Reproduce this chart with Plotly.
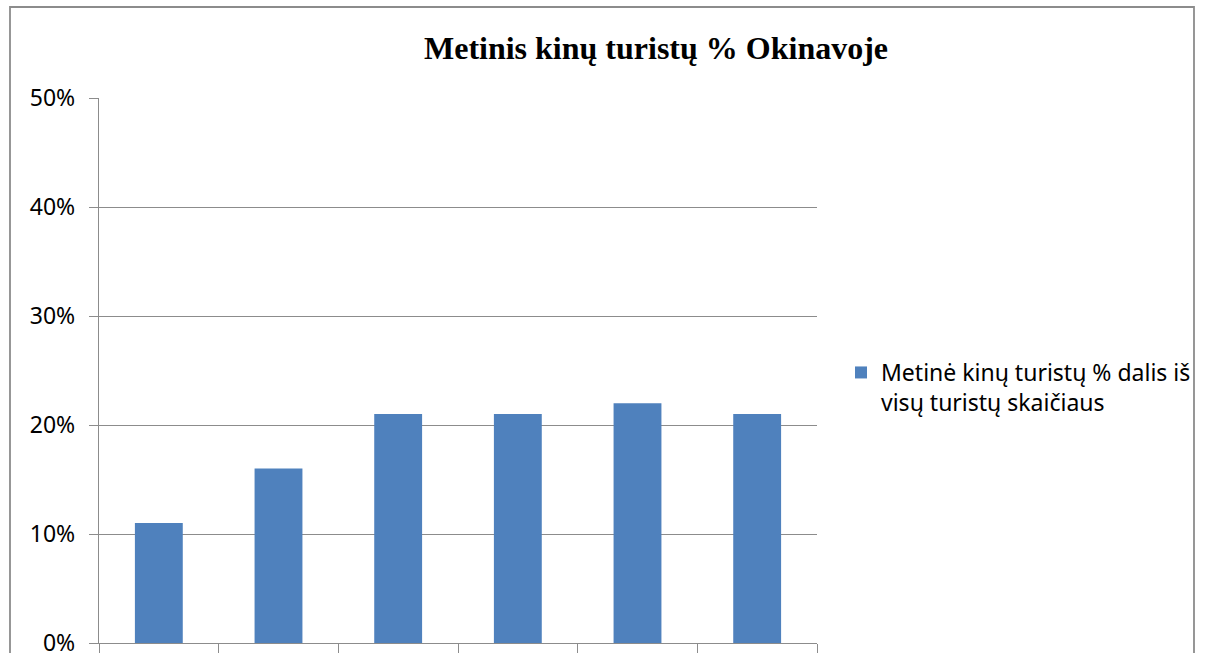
import plotly.graph_objects as go

categories = ["2010", "2011", "2012", "2013", "2014", "2015"]
values = [0.11, 0.16, 0.21, 0.21, 0.22, 0.21]
series_name = "Metinė kinų turistų % dalis iš<br>visų turistų skaičiaus"
title_text = "Metinis kinų turistų % Okinavoje"
y_ticks = [0, 0.1, 0.2, 0.3, 0.4, 0.5]

# The reference picture is a crop of a taller chart: the figure is drawn taller
# than the window and the page is clipped at the window's bottom.
W, H = 1208, 700
L, R, T, B = 99, 817, 98, 643
pw, ph = R - L, B - T

fig = go.Figure()
fig.add_trace(go.Bar(x=categories, y=values, name=series_name,
                     marker=dict(color="#4F81BD", line=dict(width=0)),
                     showlegend=True))

grid = "#8C8C8C"
fig.update_layout(
    width=W, height=H,
    margin=dict(l=L, r=W - R, t=T, b=H - B, autoexpand=False),
    paper_bgcolor="white", plot_bgcolor="white",
    bargap=0.6,
    title=dict(text="<b>" + title_text + "</b>", x=656 / W, xanchor="center",
               xref="container", y=1 - 48 / H, yanchor="middle", yref="container",
               font=dict(family="Liberation Serif", size=32, color="black")),
    showlegend=True,
    legend=dict(x=(841 - L) / pw, xanchor="left", y=(B - 351) / ph, yanchor="top",
                valign="top", font=dict(family="Noto Sans", size=23, color="black"),
                bgcolor="rgba(0,0,0,0)", itemwidth=30, tracegroupgap=0),
    xaxis=dict(type="category", showticklabels=False, showgrid=False, automargin=False,
               showline=True, linecolor=grid, linewidth=1.3,
               ticks="outside", tickson="boundaries", ticklen=10, tickcolor=grid,
               tickwidth=1.3, zeroline=False),
    yaxis=dict(range=[0, 0.5], tickvals=y_ticks, tickformat=".0%", automargin=False,
               showgrid=True, gridcolor=grid, gridwidth=1.3,
               showline=True, linecolor=grid, linewidth=1.3,
               ticks="outside", ticklen=9, tickcolor=grid, tickwidth=1.3,
               zeroline=False, ticklabelstandoff=9,
               tickfont=dict(family="Noto Sans", size=23, color="black")),
)

# outer chart border (cut off at the bottom like the reference)
fig.add_shape(type="rect", xref="paper", yref="paper",
              x0=(10 - L) / pw, x1=(1194 - L) / pw,
              y0=(B - 695) / ph, y1=(B - 7) / ph,
              line=dict(color="#8C8C8C", width=1.8), fillcolor="rgba(0,0,0,0)",
              layer="below")

fig.write_html(
    "out.html",
    config={"displayModeBar": False},
    post_script="document.body.style.margin='0';document.body.style.overflow='hidden';"
                "document.documentElement.style.overflow='hidden';",
)
